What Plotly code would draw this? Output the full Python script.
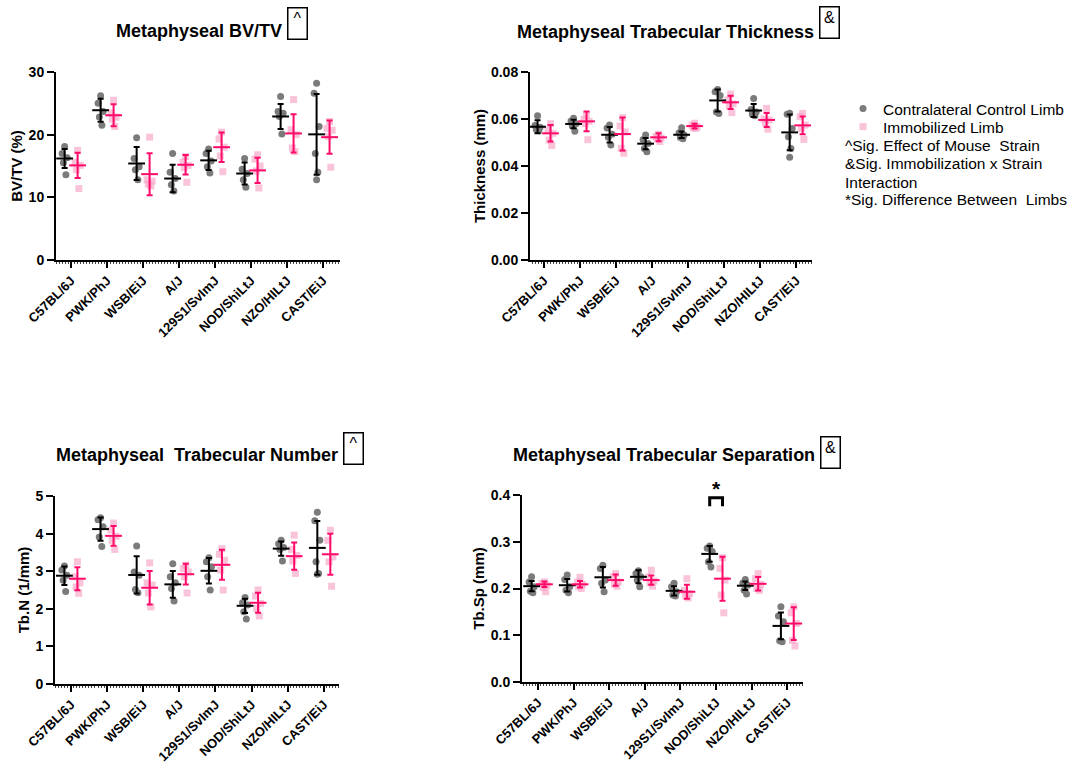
import plotly.graph_objects as go

# ---------------- data ----------------
categories = ["C57BL/6J", "PWK/PhJ", "WSB/EiJ", "A/J", "129S1/SvImJ",
              "NOD/ShiLtJ", "NZO/HILtJ", "CAST/EiJ"]

bvtv_ctrl_pts = [[18.1, 17.0, 16.3, 15.5, 13.6], [26.2, 25.0, 23.7, 22.8, 21.5],
                 [19.5, 16.2, 14.9, 14.4, 12.8], [17.0, 14.0, 13.0, 12.0, 11.0],
                 [17.7, 17.0, 15.8, 14.9, 13.9], [16.2, 14.5, 13.8, 12.8, 11.6],
                 [26.1, 23.7, 23.4, 22.9, 20.1], [28.2, 26.6, 21.3, 17.0, 14.0, 12.8]]
bvtv_ctrl_mean = [16.2, 23.9, 15.4, 13.0, 15.9, 13.8, 22.9, 20.05]
bvtv_ctrl_sd = [1.5, 1.85, 2.65, 2.2, 1.55, 1.75, 2.0, 6.45]
bvtv_imm_pts = [[17.5, 15.6, 15.1, 14.4, 11.4], [25.5, 23.5, 22.8, 22.5, 21.3],
                [19.6, 12.8, 12.6, 12.1, 11.8], [16.5, 15.6, 15.1, 14.7, 12.4],
                [20.4, 19.3, 18.0, 16.6, 14.1], [16.8, 16.1, 15.0, 14.2, 11.5],
                [25.6, 20.8, 20.0, 17.9, 17.3], [22.1, 21.0, 20.7, 19.7, 14.8]]
bvtv_imm_mean = [15.1, 23.1, 13.7, 15.2, 18.0, 14.3, 20.2, 19.6]
bvtv_imm_sd = [2.0, 1.75, 3.35, 1.55, 2.35, 2.0, 3.05, 2.65]

th_ctrl_pts = [[0.0614, 0.0572, 0.0565, 0.0555, 0.0550], [0.0603, 0.0591, 0.0580, 0.0570, 0.0548],
               [0.0574, 0.0562, 0.0535, 0.0522, 0.0489], [0.0532, 0.0513, 0.0496, 0.0475, 0.0461],
               [0.0563, 0.0542, 0.0532, 0.0521, 0.0516], [0.0726, 0.0716, 0.0700, 0.0630, 0.0623],
               [0.0687, 0.0640, 0.0630, 0.0620, 0.0614], [0.0624, 0.0620, 0.0560, 0.0525, 0.0475, 0.0437]]
th_ctrl_mean = [0.0567, 0.0579, 0.0533, 0.0495, 0.0533, 0.0679, 0.0636, 0.0543]
th_ctrl_sd = [0.0028, 0.0018, 0.0033, 0.0024, 0.0014, 0.0047, 0.0028, 0.0076]
th_imm_pts = [[0.0580, 0.0553, 0.0539, 0.0510, 0.0487], [0.0617, 0.0599, 0.0590, 0.0580, 0.0512],
              [0.0606, 0.0570, 0.0545, 0.0475, 0.0454], [0.0535, 0.0525, 0.0520, 0.0515, 0.0504],
              [0.0582, 0.0574, 0.0567, 0.0562, 0.0560], [0.0706, 0.0681, 0.0664, 0.0655, 0.0627],
              [0.0645, 0.0600, 0.0596, 0.0585, 0.0557], [0.0624, 0.0610, 0.0574, 0.0560, 0.0513]]
th_imm_mean = [0.0539, 0.0590, 0.0536, 0.0522, 0.0570, 0.0671, 0.0596, 0.0573]
th_imm_sd = [0.0035, 0.0042, 0.0070, 0.0017, 0.0010, 0.0028, 0.0030, 0.0038]

tbn_ctrl_pts = [[3.14, 3.03, 2.89, 2.76, 2.46], [4.42, 4.37, 4.18, 3.91, 3.66],
                [3.67, 2.98, 2.89, 2.51, 2.43], [3.20, 2.85, 2.69, 2.54, 2.21],
                [3.36, 3.25, 3.12, 2.85, 2.50], [2.30, 2.16, 2.10, 1.92, 1.73],
                [3.82, 3.73, 3.63, 3.58, 3.27], [4.57, 4.34, 3.82, 3.25, 2.94, 2.92]]
tbn_ctrl_mean = [2.88, 4.12, 2.90, 2.65, 3.01, 2.08, 3.60, 3.62]
tbn_ctrl_sd = [0.245, 0.31, 0.495, 0.355, 0.34, 0.19, 0.19, 0.715]
tbn_imm_pts = [[3.25, 2.85, 2.69, 2.58, 2.41], [4.28, 4.09, 3.93, 3.82, 3.58],
               [3.22, 2.69, 2.63, 2.42, 2.05], [3.16, 3.07, 2.98, 2.85, 2.42],
               [3.60, 3.45, 3.29, 3.03, 2.50], [2.50, 2.34, 2.14, 2.01, 1.81],
               [3.96, 3.58, 3.42, 3.27, 2.94], [4.09, 3.82, 3.38, 3.25, 2.60]]
tbn_imm_mean = [2.80, 3.94, 2.56, 2.92, 3.17, 2.16, 3.40, 3.45]
tbn_imm_sd = [0.305, 0.265, 0.445, 0.275, 0.40, 0.265, 0.36, 0.545]

tbsp_ctrl_pts = [[0.225, 0.214, 0.204, 0.194, 0.191], [0.229, 0.219, 0.204, 0.196, 0.191],
                 [0.250, 0.243, 0.218, 0.211, 0.193], [0.238, 0.232, 0.225, 0.218, 0.204],
                 [0.211, 0.204, 0.193, 0.186, 0.184], [0.291, 0.286, 0.279, 0.257, 0.246],
                 [0.219, 0.212, 0.207, 0.196, 0.188], [0.161, 0.141, 0.129, 0.088, 0.086]]
tbsp_ctrl_mean = [0.205, 0.207, 0.224, 0.225, 0.195, 0.274, 0.206, 0.120]
tbsp_ctrl_sd = [0.011, 0.0135, 0.022, 0.014, 0.010, 0.017, 0.009, 0.0286]
tbsp_imm_pts = [[0.214, 0.211, 0.207, 0.202, 0.193], [0.224, 0.214, 0.209, 0.204, 0.200],
                [0.232, 0.225, 0.214, 0.209, 0.205], [0.239, 0.225, 0.216, 0.212, 0.205],
                [0.221, 0.196, 0.189, 0.184, 0.180], [0.266, 0.243, 0.218, 0.186, 0.148],
                [0.232, 0.221, 0.209, 0.200, 0.196], [0.161, 0.148, 0.125, 0.089, 0.077]]
tbsp_imm_mean = [0.209, 0.209, 0.218, 0.218, 0.193, 0.221, 0.210, 0.125]
tbsp_imm_sd = [0.006, 0.007, 0.012, 0.010, 0.015, 0.047, 0.0145, 0.035]

titles = ["Metaphyseal BV/TV", "Metaphyseal Trabecular Thickness",
          "Metaphyseal  Trabecular Number", "Metaphyseal Trabecular Separation"]
title_marks = ["^", "&", "^", "&"]
y_titles = ["BV/TV (%)", "Thickness (mm)", "Tb.N (1/mm)", "Tb.Sp (mm)"]
legend_names = ["Contralateral Control Limb", "Immobilized Limb"]
notes = ["^Sig. Effect of Mouse  Strain", "&Sig. Immobilization x Strain",
         "Interaction", "*Sig. Difference Between  Limbs"]
sig_strain = "NOD/ShiLtJ"

# ---------------- style ----------------
W, H = 1073, 765
FONT = "Arial, Liberation Sans, sans-serif"
C_DOT = "#7b7b7b"
C_SQ = "rgba(245,160,196,0.62)"
C_PINK = "#FF0A6A"
OFF = 0.18
JIT = [0.0, -0.07, 0.07, -0.035, 0.035, 0.0]
NOTE_Y = [145, 163, 182, 200]
LEG_Y = [109, 127]


def px_x(p):
    return p / W


def px_y(p):
    return 1 - p / H


panels = [
    dict(data=(bvtv_ctrl_pts, bvtv_ctrl_mean, bvtv_ctrl_sd, bvtv_imm_pts, bvtv_imm_mean, bvtv_imm_sd),
         xpx=(56, 340), ypx=(72, 260), xr=(-0.42, 7.47), yr=(0, 30), dtick=10, fmt="d",
         title_right=284, title_y=31, box=(287, 7)),
    dict(data=(th_ctrl_pts, th_ctrl_mean, th_ctrl_sd, th_imm_pts, th_imm_mean, th_imm_sd),
         xpx=(530, 812), ypx=(72, 260), xr=(-0.39, 7.44), yr=(0, 0.08), dtick=0.02, fmt=".2f",
         title_right=816, title_y=32, box=(819, 6)),
    dict(data=(tbn_ctrl_pts, tbn_ctrl_mean, tbn_ctrl_sd, tbn_imm_pts, tbn_imm_mean, tbn_imm_sd),
         xpx=(55, 339), ypx=(496, 684), xr=(-0.44, 7.42), yr=(0, 5), dtick=1, fmt="d",
         title_right=340, title_y=455, box=(343, 432)),
    dict(data=(tbsp_ctrl_pts, tbsp_ctrl_mean, tbsp_ctrl_sd, tbsp_imm_pts, tbsp_imm_mean, tbsp_imm_sd),
         xpx=(522, 803), ypx=(495, 682), xr=(-0.45, 7.44), yr=(0, 0.4), dtick=0.1, fmt=".1f",
         title_right=817, title_y=455, box=(820, 436)),
]

fig = go.Figure()
annotations = []
shapes = []

for k, p in enumerate(panels):
    sfx = "" if k == 0 else str(k + 1)
    xa, ya = "x" + sfx, "y" + sfx
    cp, cm, cs, ip, im, isd = p["data"]
    n = len(categories)

    def flat(pts, off):
        xs, ys = [], []
        for i, grp in enumerate(pts):
            for j, v in enumerate(grp):
                xs.append(i + off + JIT[j % len(JIT)])
                ys.append(v)
        return xs, ys

    cx, cy = flat(cp, -OFF)
    ix, iy = flat(ip, OFF)
    fig.add_trace(go.Scatter(x=cx, y=cy, mode="markers", xaxis=xa, yaxis=ya,
                             name=legend_names[0], showlegend=(k == 0), legend="legend",
                             marker=dict(symbol="circle", size=7, color=C_DOT)))
    fig.add_trace(go.Scatter(x=ix, y=iy, mode="markers", xaxis=xa, yaxis=ya,
                             name=legend_names[1], showlegend=(k == 0), legend="legend2",
                             marker=dict(symbol="square", size=7, color=C_SQ)))
    fig.add_trace(go.Scatter(x=[i - OFF for i in range(n)], y=cm, mode="markers",
                             xaxis=xa, yaxis=ya, showlegend=False,
                             marker=dict(symbol="line-ew", size=12, line=dict(width=2, color="black")),
                             error_y=dict(type="data", array=cs, color="black", thickness=2, width=3)))
    fig.add_trace(go.Scatter(x=[i + OFF for i in range(n)], y=im, mode="markers",
                             xaxis=xa, yaxis=ya, showlegend=False,
                             marker=dict(symbol="line-ew", size=12, line=dict(width=2, color=C_PINK)),
                             error_y=dict(type="data", array=isd, color=C_PINK, thickness=2, width=3)))

    fig.layout["xaxis" + sfx] = dict(
        domain=[px_x(p["xpx"][0]), px_x(p["xpx"][1])], anchor=ya, range=list(p["xr"]),
        automargin=False,
        tickvals=list(range(n)), ticktext=categories, tickangle=-45,
        showline=True, linecolor="black", linewidth=2, ticks="outside", ticklen=6,
        tickwidth=2, tickcolor="black", showgrid=False, zeroline=False,
        tickfont=dict(family=FONT, size=13, color="black", weight="bold"),
        minor=dict(dtick=1 / 12, tick0=0, ticks="outside", ticklen=2, tickwidth=1, tickcolor="#444"))
    fig.layout["yaxis" + sfx] = dict(
        domain=[px_y(p["ypx"][1]), px_y(p["ypx"][0])], anchor=xa, range=list(p["yr"]),
        automargin=False,
        dtick=p["dtick"], tickformat=p["fmt"], showline=True, linecolor="black", linewidth=2,
        ticks="outside", ticklen=7, tickwidth=2, tickcolor="black", showgrid=False, zeroline=False,
        tickfont=dict(family=FONT, size=14, color="black", weight="bold"),
        title=dict(text=y_titles[k], standoff=2,
                   font=dict(family=FONT, size=15, color="black", weight="bold")))

    annotations.append(dict(text=titles[k], xref="paper", yref="paper",
                            x=px_x(p["title_right"]), y=px_y(p["title_y"]),
                            xanchor="right", yanchor="middle", showarrow=False,
                            font=dict(family=FONT, size=18, color="black", weight="bold")))
    bx, by = p["box"]
    annotations.append(dict(text=title_marks[k], xref="paper", yref="paper",
                            x=px_x(bx), y=px_y(by), xanchor="left", yanchor="top",
                            showarrow=False, width=16, height=28, valign="top", align="center",
                            bordercolor="black", borderwidth=1.5, borderpad=1,
                            font=dict(family=FONT, size=16, color="black")))

# significance bracket on Tb.Sp panel
si = categories.index(sig_strain)
shapes.append(dict(type="path", xref="x4", yref="y4",
                   path=f"M {si - OFF},0.376 L {si - OFF},0.394 L {si + OFF},0.394 L {si + OFF},0.376",
                   line=dict(color="black", width=3)))
annotations.append(dict(text="*", xref="x4", yref="y4", x=si, y=0.386, xanchor="center",
                        yanchor="bottom", showarrow=False,
                        font=dict(family=FONT, size=21, color="black", weight="bold")))

for line, yy in zip(notes, NOTE_Y):
    annotations.append(dict(text=line, xref="paper", yref="paper",
                            x=px_x(843), y=px_y(yy), xanchor="left", yanchor="middle",
                            align="left", showarrow=False,
                            font=dict(family=FONT, size=15.5, color="black")))

leg_common = dict(xanchor="left", yanchor="middle", bgcolor="rgba(0,0,0,0)",
                  font=dict(family=FONT, size=15.5, color="black"), itemwidth=30)
fig.update_layout(
    width=W, height=H, margin=dict(l=0, r=0, t=0, b=0, autoexpand=False),
    paper_bgcolor="white", plot_bgcolor="white",
    annotations=annotations, shapes=shapes,
    legend=dict(x=px_x(843), y=px_y(LEG_Y[0]), **leg_common),
    legend2=dict(x=px_x(843), y=px_y(LEG_Y[1]), **leg_common),
)

fig.write_html("out.html", config={"displayModeBar": False},
               post_script="document.body.style.margin='0px';")
